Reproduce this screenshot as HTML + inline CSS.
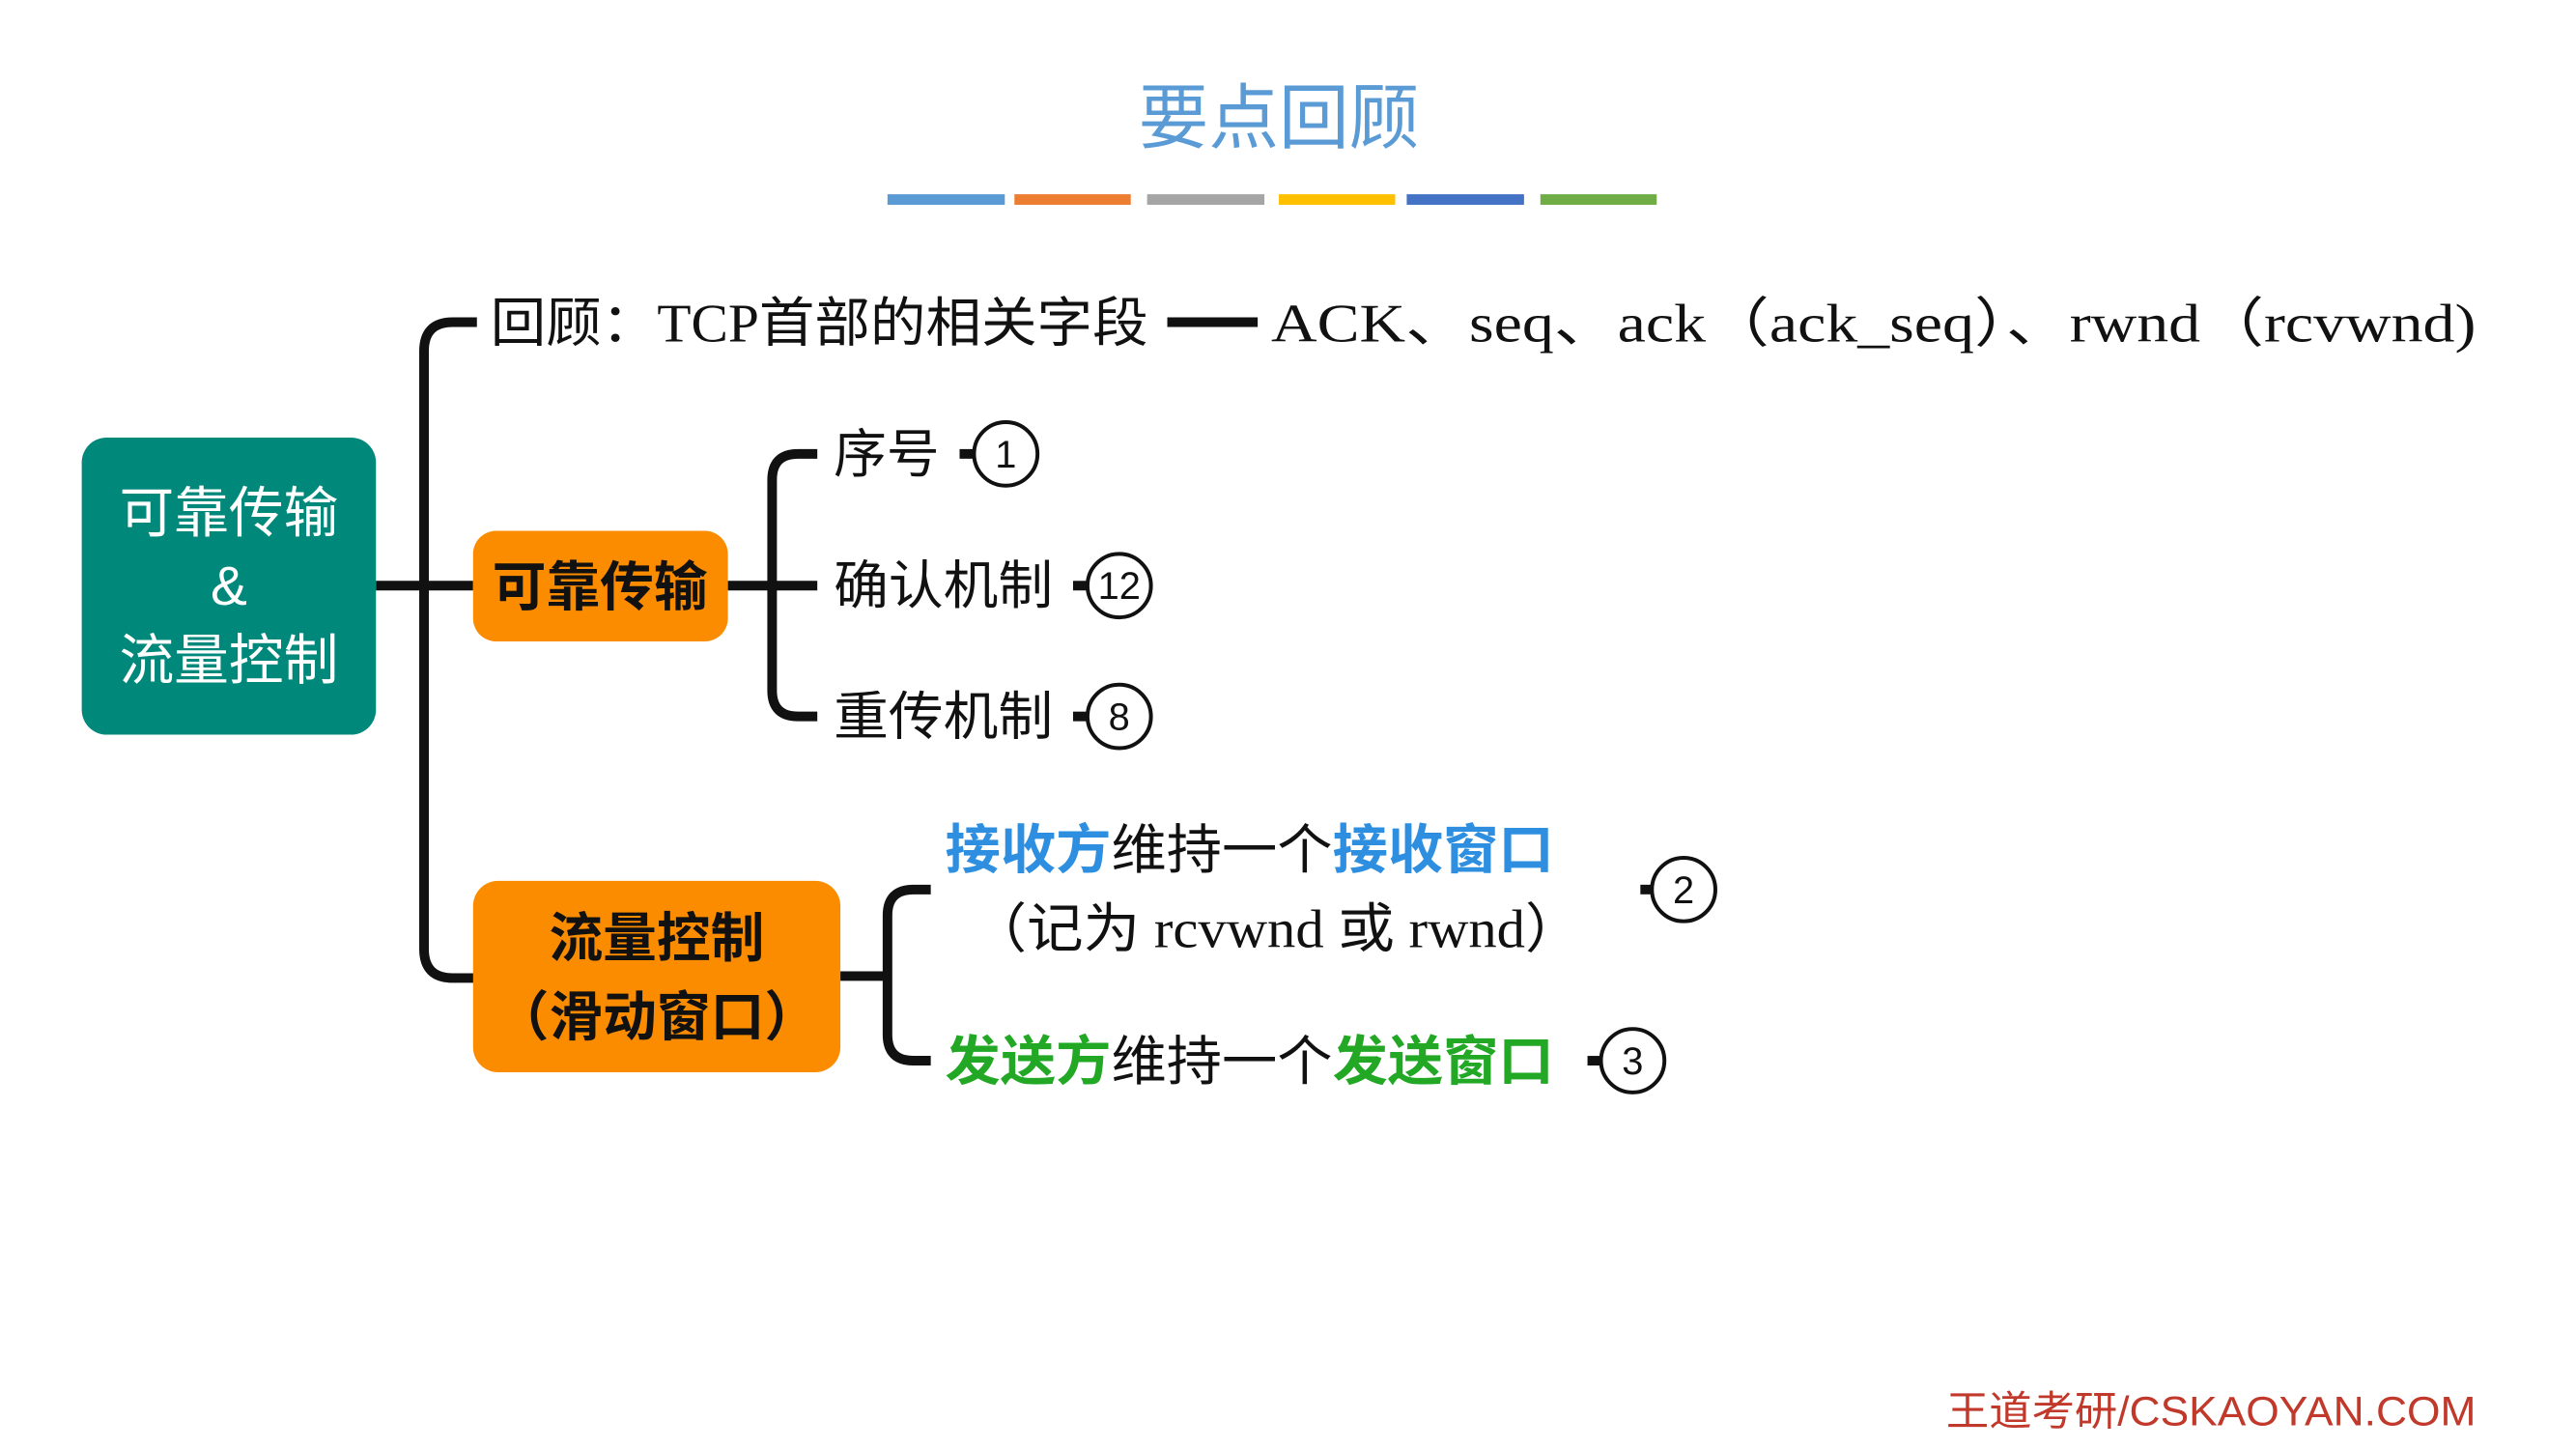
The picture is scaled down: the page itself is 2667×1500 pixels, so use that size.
<!DOCTYPE html>
<html><head><meta charset="utf-8"><style>
html,body{margin:0;padding:0;background:#fff;}
svg{display:block;}
text{font-family:"Liberation Sans","Noto Sans CJK SC",sans-serif;}
.s{font-family:"Liberation Serif","Noto Sans CJK SC",serif;}
</style></head><body>
<svg width="2667" height="1500" viewBox="0 0 2667 1500" xmlns="http://www.w3.org/2000/svg">
<rect width="2667" height="1500" fill="#fff"/>
<g transform="scale(0.9955)">
<text x="1330" y="148" font-size="74" fill="#5b9bd5" text-anchor="middle" textLength="292" lengthAdjust="spacingAndGlyphs">要点回顾</text>
<g>
<rect x="923" y="202" width="122" height="11" fill="#5b9bd5"/>
<rect x="1055" y="202" width="121" height="11" fill="#ed7d31"/>
<rect x="1193" y="202" width="122" height="11" fill="#a5a5a5"/>
<rect x="1330" y="202" width="121" height="11" fill="#ffc000"/>
<rect x="1463" y="202" width="122" height="11" fill="#4472c4"/>
<rect x="1602" y="202" width="121" height="11" fill="#70ad47"/>
</g>
<g fill="none" stroke="#111" stroke-width="10">
<path d="M496 335 H471 Q441 335 441 365 V987 Q441 1017 471 1017 H496"/>
<path d="M391 609 H492"/>
<path d="M757 609 H850"/>
<path d="M850 472 H830 Q803 472 803 499 V718 Q803 745 830 745 H850"/>
<path d="M874 1015 H923"/>
<path d="M968 925 H950 Q923 925 923 952 V1076 Q923 1103 950 1103 H968"/>
<path d="M1214 335 H1308"/>
<path d="M998 472 H1013"/>
<path d="M1116 609 H1131"/>
<path d="M1116 745 H1131"/>
<path d="M1706 925 H1718"/>
<path d="M1651 1103 H1665"/>
</g>
<g fill="none" stroke="#111" stroke-width="4">
<circle cx="1046" cy="472" r="33"/>
<circle cx="1164" cy="609" r="33"/>
<circle cx="1164" cy="745" r="33"/>
<circle cx="1751" cy="925" r="33"/>
<circle cx="1698" cy="1103" r="33"/>
</g>
<g font-size="40" text-anchor="middle" fill="#111">
<text x="1046" y="486">1</text>
<text x="1164" y="623">12</text>
<text x="1164" y="759">8</text>
<text x="1751" y="939">2</text>
<text x="1698" y="1117">3</text>
</g>
<rect x="85" y="455" width="306" height="309" rx="26" fill="#00897b"/>
<g fill="#fff" font-size="57" text-anchor="middle">
<text x="238" y="553">可靠传输</text>
<text x="238" y="629">&amp;</text>
<text x="238" y="706">流量控制</text>
</g>
<rect x="492" y="552" width="265" height="115" rx="24" fill="#fb8c00"/>
<text x="624" y="630" font-size="56" font-weight="bold" text-anchor="middle" fill="#111">可靠传输</text>
<rect x="492" y="916" width="382" height="199" rx="26" fill="#fb8c00"/>
<text x="683" y="995" font-size="56" font-weight="bold" text-anchor="middle" fill="#111">流量控制</text>
<text x="683" y="1077" font-size="56" font-weight="bold" text-anchor="middle" fill="#111">（滑动窗口）</text>
<text x="510" y="355" font-size="56" fill="#111" class="s" textLength="684" lengthAdjust="spacingAndGlyphs">回顾：TCP首部的相关字段</text>
<text x="1322" y="355" font-size="56" fill="#111" class="s" textLength="1253" lengthAdjust="spacingAndGlyphs">ACK、seq、ack（ack_seq）、rwnd（rcvwnd)</text>
<g font-size="55" fill="#111">
<text x="867" y="491">序号</text>
<text x="867" y="628" textLength="228" lengthAdjust="spacingAndGlyphs">确认机制</text>
<text x="867" y="764" textLength="228" lengthAdjust="spacingAndGlyphs">重传机制</text>
</g>
<text x="983" y="903" font-size="56" textLength="633" lengthAdjust="spacingAndGlyphs"><tspan fill="#2e8fe0" font-weight="bold">接收方</tspan><tspan fill="#111">维持一个</tspan><tspan fill="#2e8fe0" font-weight="bold">接收窗口</tspan></text>
<text x="1009" y="985" font-size="56" fill="#111" class="s" textLength="636" lengthAdjust="spacingAndGlyphs">（记为 rcvwnd 或 rwnd）</text>
<text x="983" y="1123" font-size="56" textLength="633" lengthAdjust="spacingAndGlyphs"><tspan fill="#22a825" font-weight="bold">发送方</tspan><tspan fill="#111">维持一个</tspan><tspan fill="#22a825" font-weight="bold">发送窗口</tspan></text>
<text x="2024" y="1482" font-size="43" fill="#c0392b" textLength="551" lengthAdjust="spacingAndGlyphs">王道考研/CSKAOYAN.COM</text>
</g>
</svg>
</body></html>
